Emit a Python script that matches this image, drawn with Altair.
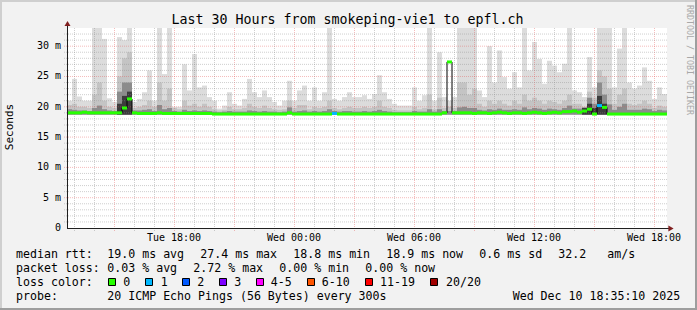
import altair as alt
import pandas as pd

# ---------------- data ----------------
START_HOUR = 12.65      # left edge of plot: Tue 12:39 (hours since Tue 00:00)
STEP_HOURS = 0.25       # one smoke column = 15 minutes
SPAN_HOURS = 30
Y_MAX = 33
SMOKE_BASE = 18.7

smoke_max = [
    21.0, 24.6, 21.7, 21.0, 21.0, 33.0, 33.0, 31.2, 21.4, 20.8,
    31.5, 31.0, 33.0, 20.8, 21.3, 22.4, 26.0, 21.0, 33.0, 25.4,
    33.0, 20.0, 20.0, 27.0, 22.7, 28.7, 23.2, 23.5, 21.6, 21.0,
    19.7, 20.2, 22.4, 20.5, 20.2, 21.3, 24.6, 22.4, 21.6, 22.7,
    21.6, 20.8, 20.2, 21.0, 24.3, 21.0, 22.7, 23.5, 21.0, 23.2,
    21.0, 22.4, 33.0, 21.3, 21.0, 21.6, 22.4, 21.6, 21.6, 21.9,
    21.3, 22.1, 25.2, 22.4, 21.3, 20.5, 20.2, 20.2, 20.2, 23.2,
    21.0, 21.9, 33.0, 21.0, 29.0, 21.6, 21.0, 21.6, 33.0, 33.0,
    33.0, 33.0, 22.7, 21.6, 30.0, 24.0, 29.3, 24.9, 23.0, 25.7,
    23.2, 33.0, 26.0, 30.7, 27.9, 23.8, 27.6, 26.8, 25.7, 27.1,
    33.0, 22.7, 22.4, 21.6, 28.2, 23.2, 33.0, 33.0, 33.0, 23.2,
    29.6, 33.0, 24.0, 23.0, 23.5, 26.5, 24.3, 21.3, 23.2, 22.1]

smoke_mid = [
    20.3, 20.5, 20.0, 20.0, 19.8, 22.0, 24.0, 21.0, 20.0, 19.8,
    25.0, 28.0, 29.0, 19.8, 20.0, 20.3, 21.0, 20.0, 24.0, 21.0,
    23.0, 19.8, 19.6, 21.0, 20.2, 20.5, 20.0, 20.5, 20.0, 19.6,
    19.4, 19.5, 20.0, 19.6, 19.6, 19.8, 20.5, 20.0, 19.8, 20.2,
    19.8, 19.6, 19.5, 19.6, 21.0, 19.8, 20.3, 20.3, 19.6, 20.0,
    19.8, 20.0, 21.0, 19.8, 19.6, 19.8, 20.0, 19.8, 19.8, 20.0,
    19.8, 20.0, 21.0, 20.0, 19.8, 19.5, 19.4, 19.4, 19.4, 20.0,
    19.6, 19.8, 22.0, 19.6, 21.5, 19.8, 20.0, 19.8, 24.0, 24.0,
    22.0, 23.0, 20.5, 20.0, 21.0, 20.5, 21.0, 20.5, 20.2, 21.0,
    20.5, 22.0, 21.0, 21.5, 21.0, 20.5, 21.0, 20.8, 20.5, 21.0,
    22.0, 20.5, 20.5, 20.0, 22.5, 21.5, 26.0, 25.0, 23.0, 20.5,
    22.0, 23.0, 20.5, 20.3, 20.5, 21.0, 20.5, 19.8, 20.2, 20.0]

smoke_dark = [
    19.6, 19.5, 19.4, 19.4, 19.3, 19.8, 20.2, 19.6, 19.4, 19.3,
    22.5, 24.0, 24.0, 19.4, 19.4, 19.5, 19.6, 19.3, 20.3, 19.6,
    19.8, 19.3, 19.2, 19.5, 19.3, 19.4, 19.3, 19.4, 19.3, 19.2,
    19.1, 19.2, 19.3, 19.2, 19.2, 19.2, 19.4, 19.3, 19.2, 19.3,
    19.2, 19.2, 19.1, 19.2, 19.9, 19.2, 19.3, 19.4, 19.2, 19.3,
    19.2, 19.3, 19.6, 19.3, 19.2, 19.3, 19.3, 19.2, 19.2, 19.3,
    19.2, 19.3, 19.5, 19.3, 19.2, 19.1, 19.1, 19.1, 19.1, 19.3,
    19.2, 19.2, 19.6, 19.2, 19.6, 19.3, 19.3, 19.3, 19.9, 20.0,
    19.8, 19.8, 19.5, 19.4, 19.6, 19.5, 19.7, 19.5, 19.5, 19.6,
    19.5, 19.9, 19.6, 19.8, 19.7, 19.5, 19.7, 19.6, 19.5, 19.8,
    20.2, 19.7, 19.7, 19.9, 21.5, 20.5, 24.0, 22.0, 20.4, 19.5,
    20.0, 20.5, 19.5, 19.5, 19.5, 19.7, 19.6, 19.3, 19.5, 19.4]

smoke_core = [
    18.7, 18.7, 18.7, 18.7, 18.7, 18.7, 18.7, 18.7, 18.7, 18.7,
    20.5, 21.8, 22.5, 18.7, 18.7, 18.7, 18.7, 18.7, 18.7, 18.7,
    18.7, 18.7, 18.7, 18.7, 18.7, 18.7, 18.7, 18.7, 18.7, 18.7,
    18.7, 18.7, 18.7, 18.7, 18.7, 18.7, 18.7, 18.7, 18.7, 18.7,
    18.7, 18.7, 18.7, 18.7, 18.7, 18.7, 18.7, 18.7, 18.7, 18.7,
    18.7, 18.7, 18.7, 18.7, 18.7, 18.7, 18.7, 18.7, 18.7, 18.7,
    18.7, 18.7, 18.7, 18.7, 18.7, 18.7, 18.7, 18.7, 18.7, 18.7,
    18.7, 18.7, 18.7, 18.7, 18.7, 18.7, 18.7, 18.7, 18.7, 18.7,
    18.7, 18.7, 18.7, 18.7, 18.7, 18.7, 18.7, 18.7, 18.7, 18.7,
    18.7, 18.7, 18.7, 18.7, 18.7, 18.7, 18.7, 18.7, 18.7, 18.7,
    18.7, 18.7, 18.7, 19.8, 20.5, 19.8, 21.8, 20.5, 18.7, 18.7,
    18.7, 18.7, 18.7, 18.7, 18.7, 18.7, 18.7, 18.7, 18.7, 18.7]

median_rtt = [
    19.0, 19.0, 19.0, 19.1, 19.0, 19.0, 19.0, 19.0, 19.0, 19.0,
    19.0, 19.8, 21.3, 19.0, 18.9, 18.9, 18.9, 18.9, 19.0, 18.9,
    18.9, 18.9, 18.9, 18.9, 18.9, 18.9, 18.9, 18.9, 18.9, 18.8,
    18.8, 18.8, 18.8, 18.8, 18.8, 18.8, 18.8, 18.8, 18.8, 18.8,
    18.8, 18.8, 18.8, 18.8, 19.0, 18.8, 18.8, 18.8, 18.8, 18.8,
    18.8, 18.8, 18.8, 18.9, 18.8, 18.8, 18.8, 18.8, 18.8, 18.8,
    18.8, 18.8, 18.8, 18.8, 18.8, 18.8, 18.8, 18.8, 18.8, 18.8,
    18.8, 18.8, 18.8, 18.8, 18.8, 19.0, 27.4, 19.0, 19.0, 19.0,
    19.0, 18.9, 19.0, 19.0, 18.9, 19.0, 19.1, 19.0, 18.9, 19.0,
    19.0, 18.9, 19.0, 19.1, 19.0, 18.9, 19.0, 19.1, 19.0, 19.2,
    19.2, 19.3, 19.1, 19.3, 19.6, 18.8, 20.2, 19.9, 18.8, 18.8,
    18.8, 18.8, 18.8, 18.8, 18.8, 18.8, 18.8, 18.8, 18.8, 18.8]

loss_class = ["0"] * 120
loss_class[53] = "1"
loss_class[106] = "1"

loss_labels = ["0", "1", "2", "3", "4-5", "6-10", "11-19", "20/20"]
loss_colors = ["#26ff00", "#00b8ff", "#0059ff", "#7e00ff", "#ff00ff",
               "#ff5500", "#ff0000", "#a10000"]

tick_hours = [18, 24, 30, 36, 42]
tick_labels = ["Tue 18:00", "Wed 00:00", "Wed 06:00", "Wed 12:00", "Wed 18:00"]
y_ticks = [0, 5, 10, 15, 20, 25, 30]
y_tick_labels = ["0", "5 m", "10 m", "15 m", "20 m", "25 m", "30 m"]

title_text = "Last 30 Hours from smokeping-vie1 to epfl.ch"
legend_rows = [
    # (text, x, baseline-y) in page pixels
    ("median rtt:", 16, 258), ("19.0 ms avg", 107.3, 258), ("27.4 ms max", 200.3, 258),
    ("18.8 ms min", 293.3, 258), ("18.9 ms now", 386.3, 258), ("0.6 ms sd", 479.3, 258),
    ("32.2", 558.3, 258), ("am/s", 607.3, 258),
    ("packet loss:", 16, 272), ("0.03 % avg", 107.3, 272), ("2.72 % max", 193.3, 272),
    ("0.00 % min", 279.3, 272), ("0.00 % now", 365.3, 272),
    ("loss color:", 16, 286),
    ("probe:", 16, 300), ("20 ICMP Echo Pings (56 Bytes) every 300s", 107.3, 300),
    ("Wed Dec 10 18:35:10 2025", 512.7, 300),
]
swatch_x = [108, 145, 182, 219, 256, 307, 365, 430]
swatch_label_x = [123.3, 160.7, 197.3, 234.3, 270.7, 321.7, 380, 446]

# ---------------- layout ----------------
PL, PT, PW, PH = 67, 28, 600, 200
FONT = "DejaVu Sans Mono"
GRID = "rgba(140,140,140,0.42)"
MGRID = "rgba(228,80,80,0.38)"

n = len(smoke_max)
t0 = [START_HOUR + STEP_HOURS * i for i in range(n)]
df = pd.DataFrame({
    "t0": t0, "t1": [t + STEP_HOURS for t in t0], "base": [SMOKE_BASE] * n,
    "smax": smoke_max, "smid": smoke_mid, "sdark": smoke_dark, "score": smoke_core,
    "median": median_rtt, "loss": loss_class,
})

xs = alt.Scale(domain=[START_HOUR, START_HOUR + SPAN_HOURS], nice=False, zero=False)
ys = alt.Scale(domain=[0, Y_MAX], nice=False, zero=True)
one = pd.DataFrame({"a": [0]})


def smoke(field, color):
    return alt.Chart(df).mark_rect(color=color).encode(
        x=alt.X("t0:Q", scale=xs, axis=None), x2="t1:Q",
        y=alt.Y(f"{field}:Q", scale=ys, axis=None), y2="base:Q")


def prule(color, width=1, **enc):
    return alt.Chart(one).mark_rule(color=color, strokeWidth=width).encode(
        **{k: alt.value(v) for k, v in enc.items()})


layers = [
    smoke("smax", "#dcdcdc"),
    smoke("smid", "#c4c4c4"),
    smoke("sdark", "#8c8c8c"),
    smoke("score", "#3c3c3c"),
]

# grid
hours_all = pd.DataFrame({"h": list(range(13, 43))})
hours_major = pd.DataFrame({"h": list(range(15, 43, 3))})
ms_all = pd.DataFrame({"v": [v for v in range(1, 33) if v % 5]})
ms_major = pd.DataFrame({"v": [5, 10, 15, 20, 25, 30]})
layers.append(alt.Chart(pd.DataFrame({"h": [h for h in range(13, 43) if h % 3]})).mark_rule(
    color=GRID, strokeDash=[1, 1], xOffset=0.5).encode(
    x=alt.X("h:Q", scale=xs, axis=None), y=alt.value(0), y2=alt.value(PH + 3)))
layers.append(alt.Chart(hours_major).mark_rule(
    color=MGRID, strokeDash=[1, 1], xOffset=0.5).encode(
    x=alt.X("h:Q", scale=xs, axis=None), y=alt.value(0), y2=alt.value(PH + 3)))
for d, col in [(ms_all, GRID), (ms_major, MGRID)]:
    layers.append(alt.Chart(d).mark_rule(color=col, strokeDash=[1, 1]).encode(
        y=alt.Y("v:Q", scale=ys, axis=None), x=alt.value(-3), x2=alt.value(PW + 1)))

# median line (black step) + loss-coloured segments
med_df = pd.DataFrame({"t": t0 + [t0[-1] + STEP_HOURS], "m": median_rtt + [median_rtt[-1]]})
layers.append(alt.Chart(med_df).mark_line(interpolate="step-after", color="#000000",
                                          strokeWidth=1).encode(
    x=alt.X("t:Q", scale=xs, axis=None), y=alt.Y("m:Q", scale=ys, axis=None)))
layers.append(alt.Chart(df).mark_rule(strokeWidth=3).encode(
    x=alt.X("t0:Q", scale=xs, axis=None), x2="t1:Q",
    y=alt.Y("median:Q", scale=ys, axis=None),
    color=alt.Color("loss:N", scale=alt.Scale(domain=loss_labels, range=loss_colors),
                    legend=None)))

# axes + arrows
layers.append(prule("#1f1f1f", 1, x=0.5, y=-4, y2=PH + 0.5))
layers.append(prule("#1f1f1f", 1, x=0, x2=PW + 4, y=PH + 0.5))
layers.append(alt.Chart(one).mark_point(shape="triangle-up", filled=True, color="#801f1f",
                                        size=36, opacity=1).encode(
    x=alt.value(0.5), y=alt.value(-4.5)))
layers.append(alt.Chart(one).mark_point(shape="triangle-right", filled=True, color="#801f1f",
                                        size=36, opacity=1).encode(
    x=alt.value(PW + 4), y=alt.value(PH + 0.5)))

# frame (3D shade)
layers.append(prule("#cfcfcf", 2, x=-PL, x2=697 - PL, y=1 - PT))
layers.append(prule("#cfcfcf", 2, x=1 - PL, y=-PT, y2=310 - PT))
layers.append(prule("#9e9e9e", 2, x=-PL, x2=697 - PL, y=309 - PT))
layers.append(prule("#9e9e9e", 2, x=696 - PL, y=-PT, y2=310 - PT))

# tick labels
xt = pd.DataFrame({"h": tick_hours, "lab": tick_labels})
layers.append(alt.Chart(xt).mark_text(font=FONT, fontSize=10, align="center",
                                      baseline="alphabetic", color="#000000").encode(
    x=alt.X("h:Q", scale=xs, axis=None), y=alt.value(241 - PT), text="lab:N"))
yt = pd.DataFrame({"v": y_ticks, "lab": y_tick_labels})
layers.append(alt.Chart(yt).mark_text(font=FONT, fontSize=10, align="right",
                                      baseline="middle", color="#000000").encode(
    y=alt.Y("v:Q", scale=ys, axis=None), x=alt.value(61 - PL), text="lab:N"))

# title, y title, watermark
layers.append(alt.Chart(one).mark_text(font=FONT, fontSize=13.3, align="center",
                                       baseline="alphabetic", color="#000000").encode(
    x=alt.value(347.5 - PL), y=alt.value(24 - PT), text=alt.value(title_text)))
layers.append(alt.Chart(one).mark_text(font=FONT, fontSize=11, align="center",
                                       baseline="middle", angle=270, color="#000000").encode(
    x=alt.value(10 - PL), y=alt.value(127 - PT), text=alt.value("Seconds")))
layers.append(alt.Chart(one).mark_text(font=FONT, fontSize=8.3, align="center",
                                       baseline="middle", angle=90, color="#a8a8a8").encode(
    x=alt.value(688.5 - PL), y=alt.value(60 - PT),
    text=alt.value("RRDTOOL / TOBI OETIKER")))

# legend text
lg = pd.DataFrame({"text": [r[0].replace(" ", "\u00a0") for r in legend_rows],
                   "px": [r[1] - PL for r in legend_rows],
                   "py": [r[2] - PT for r in legend_rows]})
layers.append(alt.Chart(lg).mark_text(font=FONT, fontSize=11.6, align="left",
                                      baseline="alphabetic", color="#000000").encode(
    x=alt.X("px:Q", scale=None, axis=None), y=alt.Y("py:Q", scale=None, axis=None),
    text="text:N"))

sw = pd.DataFrame({"x1": [x + 0.5 - PL for x in swatch_x],
                   "x2": [x + 7.5 - PL for x in swatch_x],
                   "y1": [278.5 - PT] * 8, "y2": [285.5 - PT] * 8,
                   "col": loss_colors,
                   "lab": loss_labels,
                   "lx": [x - PL for x in swatch_label_x],
                   "ly": [286 - PT] * 8})
layers.append(alt.Chart(sw).mark_rect(stroke="#000000", strokeWidth=1).encode(
    x=alt.X("x1:Q", scale=None, axis=None), x2="x2:Q",
    y=alt.Y("y1:Q", scale=None, axis=None), y2="y2:Q",
    fill=alt.Fill("col:N", scale=None)))
layers.append(alt.Chart(sw).mark_text(font=FONT, fontSize=11.6, align="left",
                                      baseline="alphabetic", color="#000000").encode(
    x=alt.X("lx:Q", scale=None, axis=None), y=alt.Y("ly:Q", scale=None, axis=None),
    text="lab:N"))

chart = alt.layer(*layers).properties(
    width=PW, height=PH,
    padding={"left": PL, "top": PT, "right": 697 - PL - PW, "bottom": 310 - PT - PH},
    autosize=alt.AutoSizeParams(type="none"),
    background="#f2f2f2",
).configure_view(fill="#ffffff", strokeWidth=0)

chart.save("out.html", embed_options={"renderer": "svg", "actions": False})
